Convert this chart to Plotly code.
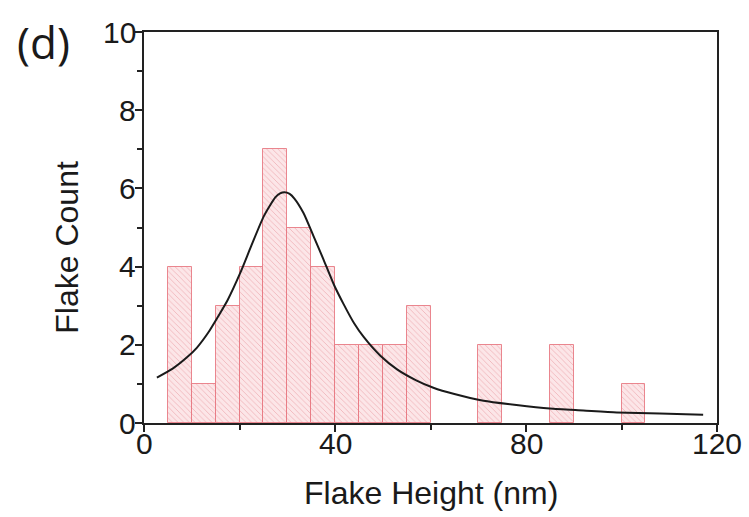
import plotly.graph_objects as go

# Histogram of flake heights (5 nm bins)
bin_left = [5, 10, 15, 20, 25, 30, 35, 40, 45, 50, 55, 60, 65, 70, 75, 80, 85, 90, 95, 100]
counts = [4, 1, 3, 4, 7, 5, 4, 2, 2, 2, 3, 0, 0, 2, 0, 0, 2, 0, 0, 1]
bin_width = 5

# Fitted peak profile
fit_x = [2.7, 6.0, 9.0, 11.1, 13.5, 15.3, 17.5, 20.2, 22.5, 25.1, 27.5, 28.5, 29.4,
         30.5, 31.5, 33.4, 35.5, 37.6, 39.8, 41.8, 44.0, 46.0, 49.5, 53.0, 57.0,
         60.6, 65.0, 71.1, 78.0, 85.0, 92.0, 99.0, 108.0, 117.1]
fit_y = [1.16, 1.39, 1.68, 1.93, 2.32, 2.68, 3.14, 3.85, 4.54, 5.29, 5.77, 5.87, 5.90,
         5.86, 5.74, 5.37, 4.78, 4.18, 3.53, 3.04, 2.55, 2.20, 1.72, 1.37, 1.09,
         0.90, 0.74, 0.57, 0.46, 0.37, 0.32, 0.27, 0.24, 0.21]

x_ticks = [0, 40, 80, 120]
y_ticks = [0, 2, 4, 6, 8, 10]

centers = [b + bin_width / 2 for b in bin_left]
edge_widths = [1 if c > 0 else 0 for c in counts]

font_family = "Liberation Sans, Arial, sans-serif"
ink = "#1a1a1a"

fig = go.Figure()
fig.add_trace(go.Bar(
    x=centers, y=counts, width=bin_width,
    marker=dict(
        color="rgba(252,228,230,1)",
        line=dict(color="rgba(230,115,125,0.85)", width=edge_widths),
        pattern=dict(shape="\\", fgcolor="rgba(218,100,110,0.75)",
                     bgcolor="rgba(252,230,232,1)", size=4, solidity=0.22),
    ),
    showlegend=False,
))
fig.add_trace(go.Scatter(
    x=fit_x, y=fit_y, mode="lines",
    line=dict(color=ink, width=2, shape="spline", smoothing=0.6),
    showlegend=False,
))

axis_common = dict(
    showline=True, linecolor="#222", linewidth=1.5, mirror=True,
    ticks="outside", ticklen=7, tickwidth=1.5, tickcolor="#222",
    showgrid=False, zeroline=False, showticklabels=False,
)

annotations = []
# tick labels placed on the data scale
for v in x_ticks:
    annotations.append(dict(text=str(v), xref="x", yref="paper", x=v, y=-0.052,
                            xanchor="center", yanchor="middle", showarrow=False,
                            font=dict(family=font_family, size=30, color=ink)))
for v in y_ticks:
    annotations.append(dict(text=str(v), xref="paper", yref="y", x=-0.0113, y=v,
                            xanchor="right", yanchor="middle", showarrow=False,
                            font=dict(family=font_family, size=30, color=ink)))
annotations += [
    dict(text="Flake Height (nm)", xref="paper", yref="paper",
         x=0.5, y=-0.18, xanchor="center", yanchor="middle", showarrow=False,
         font=dict(family=font_family, size=32, color=ink)),
    dict(text="Flake Count", xref="paper", yref="paper", textangle=-90,
         x=-0.135, y=0.45, xanchor="center", yanchor="middle", showarrow=False,
         font=dict(family=font_family, size=32, color=ink)),
    dict(text="(d)", xref="paper", yref="paper",
         x=-0.175, y=0.974, xanchor="center", yanchor="middle", showarrow=False,
         font=dict(family="Open Sans, sans-serif", size=44, color=ink)),
]

fig.update_layout(
    width=749, height=517,
    margin=dict(l=143.5, r=32, t=32, b=94),
    paper_bgcolor="white", plot_bgcolor="white",
    bargap=0,
    xaxis=dict(range=[0, 120], tickvals=x_ticks,
               minor=dict(ticks="outside", ticklen=5, tickcolor="#222", dtick=20, tick0=0),
               **axis_common),
    yaxis=dict(range=[0, 10], tickvals=y_ticks,
               minor=dict(ticks="outside", ticklen=5, tickcolor="#222", dtick=1, tick0=0),
               **axis_common),
    annotations=annotations,
)

fig.write_html("out.html")
